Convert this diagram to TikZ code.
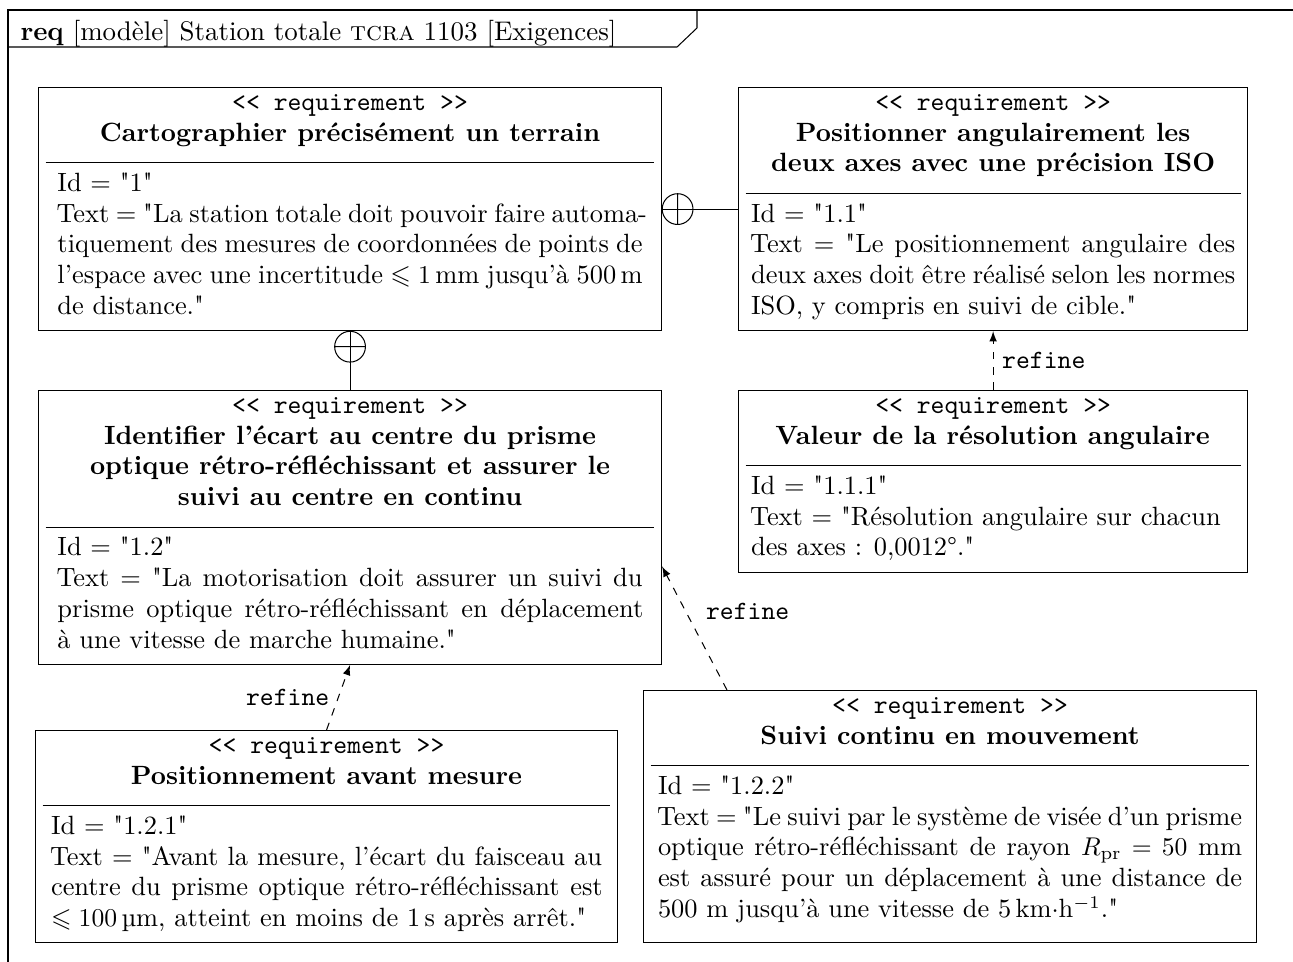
\documentclass[tikz,border=0pt]{standalone}
\usepackage{amssymb,amsmath}
\usepackage{microtype}
\usepackage{tikz}
\usetikzlibrary{shapes,arrows,calc}
% guillemets droits (sans la ligature tex-text)
\font\dqfont="[lmroman10-regular]" at 10.3pt
\newcommand{\dq}{{\dqfont\char34}}
\newcommand{\finbloc}{\rule[-5.8pt]{0pt}{0pt}}

\begin{document}
\begin{tikzpicture}[x=0.39pt, y=-0.39pt,
    req/.style={draw, rectangle split, rectangle split parts=2,
      rectangle split draw splits=false, align=justify,
      font=\fontsize{10.3}{12}\selectfont,
      inner ysep=2.5pt, anchor=north west},
    refine/.style={dashed, -latex},
    lbl/.style={font=\ttfamily\fontsize{10.3}{12}\selectfont}]
  \useasboundingbox (0,0) rectangle (1293,962);
  % cadre
  \draw (1293,10) -| (8,962);
  \draw (8,47) -- (677,47) -- (697,28) -- (697,10);
  \node [anchor=base west, inner sep=0pt, font=\fontsize{10.5}{12}\selectfont] (titre) at (20,40)
    {\textbf{req} [modèle] Station totale \textsc{tcra} 1103 [Exigences]};

  \node [req, text width=228.2pt, inner xsep=7.4pt] (carto) at (38,87)
    {\parbox{\linewidth}{\centering\texttt{<{}< requirement >{}>}\\
     \textbf{Cartographier précisément un terrain}\finbloc}
     \nodepart{two}\strut Id = \dq1\dq\\
     Text = \dq La station totale doit pouvoir faire automa\-tiquement des mesures de coordonnées de points de l'espace avec une incertitude $\leqslant 1$\,mm jusqu'à 500\,m de distance.\dq\strut};
  \node [req, text width=188.8pt, inner xsep=4.9pt] (posang) at (738,87)
    {\parbox{\linewidth}{\centering\texttt{<{}< requirement >{}>}\\
     \textbf{Positionner angulairement les\\ deux axes avec une précision ISO}\finbloc}
     \nodepart{two}\strut Id = \dq1.1\dq\\
     Text = \dq Le positionnement angulaire des deux axes doit être réalisé selon les normes ISO, y compris en suivi de cible.\dq\strut};
  \node [req, text width=188.8pt, inner xsep=4.9pt] (valres) at (738,390)
    {\parbox{\linewidth}{\centering\texttt{<{}< requirement >{}>}\\
     \textbf{Valeur de la résolution angulaire}\finbloc}
     \nodepart{two}\strut Id = \dq1.1.1\dq\\
     Text = \dq Résolution angulaire sur chacun\\ des axes~: 0,0012°.\dq\strut};
  \node [req, text width=228.2pt, inner xsep=7.4pt] (ident) at (38,390)
    {\parbox{\linewidth}{\centering\texttt{<{}< requirement >{}>}\\
     \textbf{Identifier l'écart au centre du prisme\\ optique rétro-réfléchissant et assurer le\\ suivi au centre en continu}\finbloc}
     \nodepart{two}\strut Id = \dq1.2\dq\\
     Text = \dq La motorisation doit assurer un suivi du prisme optique rétro-réfléchissant en déplacement à~une vitesse de marche humaine.\dq\strut};
  \node [req, text width=214.9pt, inner xsep=6.05pt] (avant) at (35,730)
    {\parbox{\linewidth}{\centering\texttt{<{}< requirement >{}>}\\
     \textbf{Positionnement avant mesure}\finbloc}
     \nodepart{two}\strut Id = \dq1.2.1\dq\\
     Text = \dq Avant la mesure, l'écart du faisceau au centre du prisme optique rétro-réfléchissant est \mbox{$\leqslant 100$\,µm}, atteint en moins de 1\,s après arrêt.\dq\strut};
  \node [req, text width=227.8pt, inner xsep=5.65pt] (suivi) at (643,690)
    {\parbox{\linewidth}{\centering\texttt{<{}< requirement >{}>}\\
     \textbf{Suivi continu en mouvement}\finbloc}
     \nodepart{two}\strut Id = \dq1.2.2\dq\\
     Text = \dq Le suivi par le système de visée d'un prisme optique rétro-réfléchissant de rayon $R_{\text{pr}} = 50$ mm\linebreak est assuré pour un déplacement à une distance de\linebreak 500 m jusqu'à une vitesse de 5\,km$\cdot$h$^{-1}$.\dq\rule[-7.1pt]{0pt}{0pt}};

  % séparations
  \draw ([xshift=3pt]carto.text split west) -- ([xshift=-3pt]carto.text split east);
  \draw ([xshift=3pt]posang.text split west) -- ([xshift=-3pt]posang.text split east);
  \draw ([xshift=3pt]valres.text split west) -- ([xshift=-3pt]valres.text split east);
  \draw ([xshift=3pt]ident.text split west) -- ([xshift=-3pt]ident.text split east);
  \draw ([xshift=3pt]avant.text split west) -- ([xshift=-3pt]avant.text split east);
  \draw ([xshift=3pt]suivi.text split west) -- ([xshift=-3pt]suivi.text split east);

  % contenance
  \draw (carto.south) -- (ident.north);
  \draw ($(carto.south)+(0,15.5)$) circle [radius=6pt] +(-6pt,0) -- +(6pt,0);
  \draw (carto.east) -- (posang.west);
  \draw ($(carto.east)+(15.5,0)$) circle [radius=6pt] +(0,-6pt) -- +(0,6pt);

  % raffinements
  \draw [refine] (valres.north) -- (posang.south) node [midway, right, lbl] {refine};
  \draw [refine] ($(suivi.north west)+(84,0)$) -- ($(ident.east)+(0,39)$) node [pos=0.64, right=4.5pt, lbl] {refine};
  \draw [refine] (avant.north) -- (ident.south) node [midway, left, lbl] {refine};
\end{tikzpicture}
\end{document}
